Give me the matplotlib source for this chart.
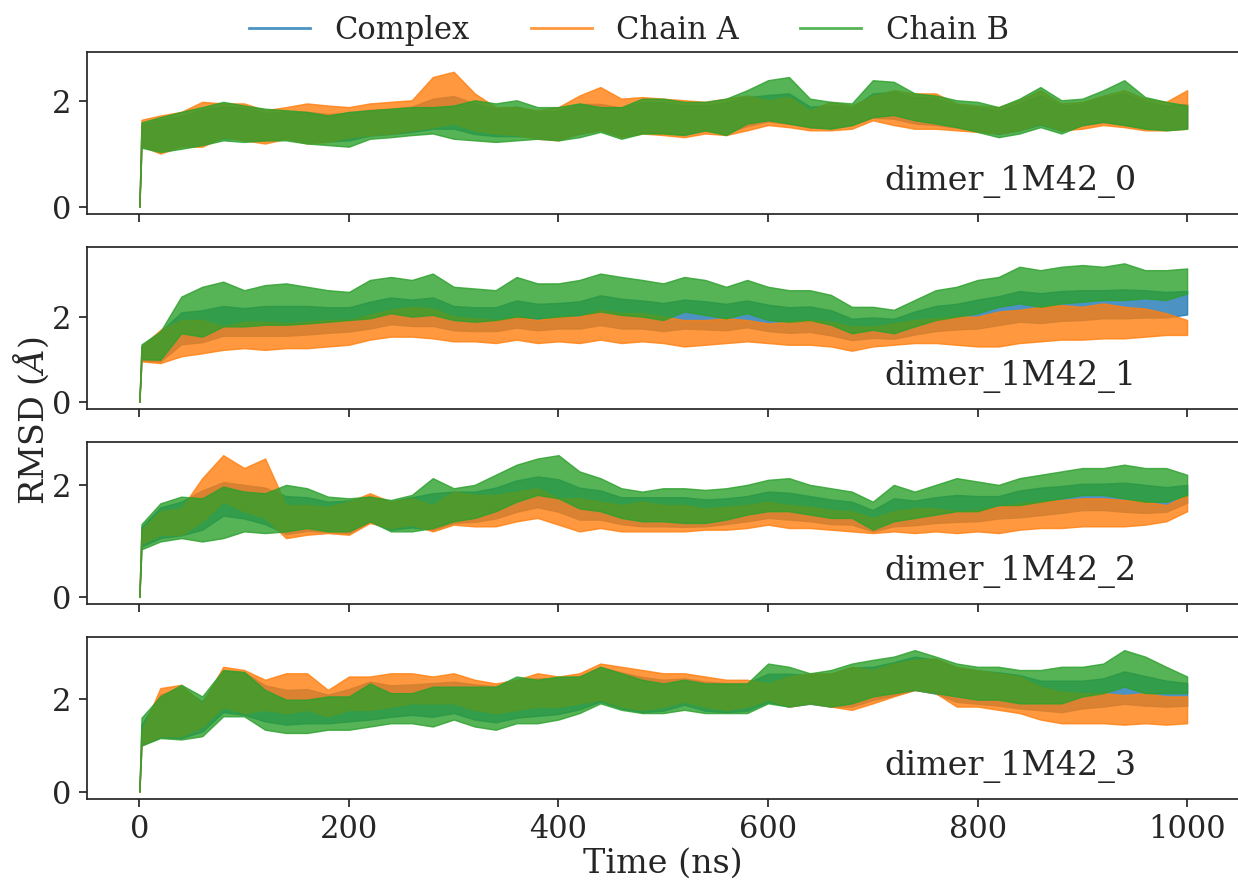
import matplotlib
matplotlib.use("Agg")
import matplotlib.pyplot as plt
from matplotlib.lines import Line2D

plt.rcParams['font.family'] = 'serif'
plt.rcParams['font.serif'] = ['DejaVu Serif']
plt.rcParams['mathtext.fontset'] = 'dejavuserif'

# ---- data: RMSD band (low / high envelope), in Angstrom ----
TIME = [0, 2, 20, 40, 60, 80, 100, 120, 140, 160, 180, 200, 220, 240, 260, 280, 300,
        320, 340, 360, 380, 400, 420, 440, 460, 480, 500, 520, 540, 560, 580, 600,
        620, 640, 660, 680, 700, 720, 740, 760, 780, 800, 820, 840, 860, 880, 900,
        920, 940, 960, 980, 1000]

RUNS = ["dimer_1M42_0", "dimer_1M42_1", "dimer_1M42_2", "dimer_1M42_3"]
SERIES = ["Complex", "Chain A", "Chain B"]
COLORS = ["#1f77b4", "#ff7f0e", "#2ca02c"]

# dimer_1M42_0
C0_HI = [0, 1.55, 1.65, 1.72, 1.85, 1.90, 1.88, 1.78, 1.80, 1.80, 1.76, 1.78, 1.84, 1.86, 1.90, 2.05, 2.10,
         1.96, 1.86, 1.90, 1.80, 1.82, 1.95, 1.95, 1.88, 1.98, 1.98, 1.93, 1.92, 1.98, 2.08, 2.12,
         2.15, 1.90, 1.92, 1.88, 2.15, 2.18, 2.08, 2.06, 1.92, 1.88, 1.82, 1.96, 2.12, 1.92, 1.95,
         2.08, 2.15, 1.99, 1.92, 1.95]
C0_LO = [0, 1.15, 1.08, 1.15, 1.20, 1.30, 1.28, 1.25, 1.30, 1.24, 1.24, 1.26, 1.35, 1.38, 1.42, 1.48, 1.48,
         1.38, 1.34, 1.34, 1.32, 1.29, 1.38, 1.46, 1.34, 1.41, 1.40, 1.37, 1.44, 1.40, 1.53, 1.62,
         1.57, 1.50, 1.49, 1.54, 1.69, 1.67, 1.58, 1.55, 1.50, 1.45, 1.38, 1.45, 1.56, 1.44, 1.54,
         1.60, 1.55, 1.49, 1.48, 1.50]
A0_HI = [0, 1.65, 1.73, 1.80, 1.99, 1.96, 1.96, 1.83, 1.89, 1.96, 1.92, 1.89, 1.96, 1.99, 2.02, 2.46, 2.56,
         2.15, 1.89, 1.89, 1.83, 1.89, 2.11, 2.27, 2.05, 2.08, 2.05, 2.02, 1.99, 2.05, 2.11, 2.02,
         2.08, 1.83, 1.99, 1.92, 2.11, 2.21, 2.15, 2.15, 1.96, 1.92, 1.89, 2.02, 2.21, 1.96, 1.99,
         2.11, 2.21, 2.05, 1.99, 2.21]
A0_LO = [0, 1.15, 1.01, 1.14, 1.14, 1.32, 1.26, 1.20, 1.29, 1.20, 1.23, 1.32, 1.36, 1.39, 1.45, 1.51, 1.58,
         1.45, 1.39, 1.36, 1.29, 1.26, 1.39, 1.45, 1.32, 1.39, 1.36, 1.32, 1.39, 1.36, 1.45, 1.55,
         1.51, 1.45, 1.45, 1.48, 1.64, 1.55, 1.48, 1.48, 1.45, 1.42, 1.39, 1.45, 1.58, 1.45, 1.48,
         1.55, 1.51, 1.45, 1.45, 1.48]
B0_HI = [0, 1.60, 1.70, 1.80, 1.89, 1.99, 1.92, 1.86, 1.83, 1.80, 1.73, 1.80, 1.83, 1.86, 1.89, 1.89, 1.92,
         2.02, 1.96, 2.02, 1.89, 1.89, 1.96, 1.89, 1.89, 2.05, 2.05, 1.99, 1.99, 2.05, 2.21, 2.40,
         2.46, 2.05, 1.99, 1.96, 2.40, 2.37, 2.15, 2.11, 2.02, 1.99, 1.89, 2.05, 2.27, 2.02, 2.05,
         2.21, 2.40, 2.08, 1.99, 1.92]
B0_LO = [0, 1.12, 1.04, 1.10, 1.17, 1.26, 1.23, 1.26, 1.26, 1.20, 1.17, 1.14, 1.29, 1.32, 1.36, 1.39, 1.29,
         1.26, 1.23, 1.26, 1.29, 1.26, 1.32, 1.42, 1.29, 1.39, 1.39, 1.36, 1.45, 1.36, 1.58, 1.64,
         1.58, 1.51, 1.48, 1.55, 1.70, 1.74, 1.64, 1.58, 1.51, 1.42, 1.32, 1.39, 1.51, 1.39, 1.55,
         1.61, 1.55, 1.48, 1.45, 1.48]

# dimer_1M42_1
C1_HI = [0, 1.30, 1.65, 2.10, 2.15, 2.25, 2.20, 2.25, 2.25, 2.25, 2.22, 2.22, 2.35, 2.45, 2.40, 2.45, 2.25,
         2.22, 2.22, 2.38, 2.30, 2.32, 2.36, 2.50, 2.42, 2.38, 2.32, 2.40, 2.36, 2.30, 2.38, 2.28,
         2.22, 2.24, 2.15, 1.95, 1.98, 1.95, 2.12, 2.25, 2.30, 2.40, 2.48, 2.60, 2.55, 2.60, 2.62,
         2.62, 2.64, 2.62, 2.58, 2.60]
C1_LO = [0, 0.97, 0.95, 1.35, 1.40, 1.55, 1.55, 1.55, 1.55, 1.58, 1.62, 1.65, 1.72, 1.82, 1.78, 1.78, 1.68,
         1.66, 1.66, 1.74, 1.68, 1.72, 1.72, 1.80, 1.72, 1.72, 1.66, 1.72, 1.70, 1.68, 1.75, 1.66,
         1.62, 1.64, 1.56, 1.45, 1.50, 1.48, 1.58, 1.66, 1.70, 1.72, 1.80, 1.88, 1.85, 1.90, 1.92,
         1.96, 1.96, 1.98, 1.98, 2.05]
A1_HI = [0, 1.30, 1.69, 1.92, 1.92, 1.77, 1.88, 1.88, 1.84, 1.88, 1.92, 1.92, 2.04, 2.16, 2.23, 2.19, 2.00,
         1.96, 1.92, 2.00, 1.92, 2.00, 2.00, 2.16, 2.08, 2.08, 2.00, 1.92, 1.92, 1.96, 1.92, 1.84,
         1.88, 1.92, 1.88, 1.77, 1.77, 1.84, 1.92, 1.96, 2.00, 2.00, 2.12, 2.16, 2.23, 2.27, 2.23,
         2.31, 2.23, 2.19, 2.08, 1.92]
A1_LO = [0, 0.95, 0.91, 1.07, 1.14, 1.22, 1.26, 1.22, 1.26, 1.26, 1.30, 1.34, 1.46, 1.53, 1.53, 1.49, 1.42,
         1.42, 1.38, 1.46, 1.38, 1.42, 1.38, 1.46, 1.38, 1.42, 1.38, 1.30, 1.34, 1.38, 1.42, 1.38,
         1.34, 1.34, 1.30, 1.20, 1.30, 1.34, 1.38, 1.38, 1.34, 1.30, 1.30, 1.38, 1.42, 1.46, 1.46,
         1.49, 1.49, 1.53, 1.57, 1.57]
B1_HI = [0, 1.35, 1.65, 2.47, 2.70, 2.82, 2.62, 2.74, 2.78, 2.70, 2.62, 2.58, 2.86, 2.93, 2.86, 3.01, 2.70,
         2.66, 2.62, 2.93, 2.78, 2.78, 2.86, 3.01, 2.93, 2.86, 2.78, 2.93, 2.86, 2.70, 2.86, 2.70,
         2.62, 2.62, 2.51, 2.23, 2.23, 2.16, 2.39, 2.62, 2.70, 2.86, 2.93, 3.17, 3.09, 3.17, 3.21,
         3.17, 3.25, 3.09, 3.09, 3.13]
B1_LO = [0, 1.00, 0.99, 1.61, 1.53, 1.77, 1.77, 1.81, 1.81, 1.84, 1.88, 1.92, 1.96, 2.08, 2.00, 2.04, 1.92,
         1.88, 1.92, 2.00, 1.96, 2.00, 2.04, 2.12, 2.04, 2.00, 1.92, 2.12, 2.04, 1.96, 2.08, 1.92,
         1.88, 1.92, 1.81, 1.61, 1.69, 1.61, 1.77, 1.92, 2.00, 2.08, 2.23, 2.31, 2.23, 2.31, 2.35,
         2.39, 2.39, 2.43, 2.39, 2.54]

# dimer_1M42_2
C2_HI = [0, 1.25, 1.60, 1.70, 1.90, 2.05, 2.00, 1.95, 1.80, 1.78, 1.70, 1.72, 1.80, 1.70, 1.78, 1.85, 1.88,
         1.88, 1.95, 2.08, 2.15, 2.10, 1.95, 1.90, 1.78, 1.78, 1.78, 1.78, 1.74, 1.76, 1.80, 1.88,
         1.86, 1.80, 1.74, 1.70, 1.55, 1.76, 1.72, 1.78, 1.82, 1.80, 1.80, 1.90, 1.95, 1.98, 2.02,
         2.02, 2.04, 2.00, 1.96, 2.00]
C2_LO = [0, 0.90, 1.05, 1.10, 1.20, 1.45, 1.40, 1.30, 1.12, 1.18, 1.16, 1.14, 1.34, 1.20, 1.24, 1.20, 1.32,
         1.34, 1.40, 1.52, 1.60, 1.52, 1.38, 1.38, 1.30, 1.26, 1.26, 1.25, 1.26, 1.30, 1.35, 1.41,
         1.38, 1.35, 1.30, 1.29, 1.17, 1.26, 1.28, 1.32, 1.34, 1.35, 1.40, 1.42, 1.46, 1.50, 1.55,
         1.55, 1.52, 1.50, 1.52, 1.68]
A2_HI = [0, 1.20, 1.53, 1.58, 2.12, 2.53, 2.30, 2.47, 1.64, 1.64, 1.61, 1.70, 1.85, 1.70, 1.76, 1.64, 1.88,
         1.82, 1.82, 1.88, 1.94, 1.76, 1.76, 1.70, 1.64, 1.70, 1.64, 1.64, 1.58, 1.61, 1.64, 1.70,
         1.64, 1.61, 1.55, 1.53, 1.41, 1.53, 1.58, 1.58, 1.53, 1.55, 1.61, 1.67, 1.70, 1.73, 1.76,
         1.76, 1.73, 1.70, 1.64, 1.82]
A2_LO = [0, 0.95, 1.11, 1.11, 1.35, 1.70, 1.53, 1.41, 1.05, 1.11, 1.14, 1.11, 1.32, 1.23, 1.29, 1.17, 1.29,
         1.26, 1.26, 1.35, 1.41, 1.29, 1.17, 1.23, 1.17, 1.17, 1.17, 1.17, 1.20, 1.20, 1.23, 1.29,
         1.23, 1.23, 1.20, 1.17, 1.14, 1.17, 1.14, 1.17, 1.14, 1.17, 1.14, 1.20, 1.23, 1.23, 1.26,
         1.26, 1.26, 1.29, 1.35, 1.53]
B2_HI = [0, 1.30, 1.67, 1.79, 1.76, 1.97, 1.88, 1.85, 2.00, 1.94, 1.79, 1.76, 1.79, 1.73, 1.82, 2.12, 1.94,
         2.00, 2.18, 2.36, 2.47, 2.53, 2.24, 2.12, 1.94, 1.88, 1.94, 1.94, 1.91, 1.94, 2.00, 2.09,
         2.12, 2.00, 1.94, 1.88, 1.70, 2.00, 1.88, 2.00, 2.12, 2.06, 2.00, 2.12, 2.18, 2.24, 2.30,
         2.30, 2.36, 2.30, 2.30, 2.18]
B2_LO = [0, 0.85, 0.99, 1.05, 0.99, 1.05, 1.17, 1.14, 1.17, 1.23, 1.17, 1.17, 1.35, 1.17, 1.17, 1.23, 1.35,
         1.41, 1.53, 1.70, 1.82, 1.76, 1.58, 1.53, 1.41, 1.35, 1.35, 1.32, 1.32, 1.38, 1.47, 1.53,
         1.53, 1.47, 1.41, 1.41, 1.20, 1.35, 1.41, 1.47, 1.53, 1.53, 1.64, 1.64, 1.70, 1.76, 1.82,
         1.82, 1.76, 1.70, 1.70, 1.82]

# dimer_1M42_3
C3_HI = [0, 1.45, 2.10, 2.25, 1.95, 2.62, 2.58, 2.30, 2.20, 2.22, 2.10, 2.22, 2.38, 2.30, 2.32, 2.35, 2.38,
         2.32, 2.28, 2.42, 2.45, 2.45, 2.50, 2.70, 2.58, 2.48, 2.42, 2.45, 2.38, 2.35, 2.35, 2.55,
         2.55, 2.52, 2.55, 2.68, 2.70, 2.80, 2.92, 2.85, 2.68, 2.62, 2.58, 2.52, 2.40, 2.40, 2.40,
         2.45, 2.60, 2.50, 2.40, 2.35]
C3_LO = [0, 1.00, 1.18, 1.16, 1.30, 1.72, 1.66, 1.52, 1.45, 1.48, 1.48, 1.52, 1.56, 1.62, 1.66, 1.62, 1.70,
         1.56, 1.50, 1.60, 1.64, 1.68, 1.78, 1.95, 1.80, 1.72, 1.75, 1.88, 1.75, 1.72, 1.75, 1.94,
         1.84, 1.90, 1.84, 1.84, 1.98, 2.08, 2.20, 2.12, 1.94, 1.90, 1.86, 1.80, 1.76, 1.72, 1.80,
         1.84, 1.90, 1.86, 1.84, 1.86]
A3_HI = [0, 1.30, 2.24, 2.31, 1.91, 2.70, 2.63, 2.42, 2.56, 2.56, 2.20, 2.49, 2.49, 2.56, 2.56, 2.49, 2.56,
         2.42, 2.34, 2.42, 2.56, 2.49, 2.56, 2.77, 2.70, 2.63, 2.56, 2.56, 2.49, 2.42, 2.42, 2.34,
         2.49, 2.56, 2.56, 2.70, 2.63, 2.77, 2.85, 2.88, 2.70, 2.63, 2.56, 2.49, 2.27, 2.16, 2.13,
         2.13, 2.09, 2.13, 2.06, 2.06]
A3_LO = [0, 1.00, 1.20, 1.20, 1.41, 1.84, 1.70, 1.77, 1.70, 1.77, 1.63, 1.77, 1.77, 1.84, 1.91, 1.91, 1.91,
         1.77, 1.70, 1.77, 1.84, 1.84, 1.91, 1.99, 1.84, 1.77, 1.84, 1.95, 1.84, 1.77, 1.84, 1.99,
         1.84, 1.91, 1.84, 1.77, 1.91, 2.06, 2.20, 2.13, 1.84, 1.84, 1.77, 1.70, 1.56, 1.48, 1.48,
         1.48, 1.45, 1.48, 1.45, 1.48]
B3_HI = [0, 1.60, 2.06, 2.31, 2.06, 2.63, 2.59, 2.20, 1.99, 1.99, 2.06, 2.06, 2.34, 2.13, 2.13, 2.27, 2.27,
         2.27, 2.27, 2.49, 2.42, 2.49, 2.49, 2.70, 2.56, 2.42, 2.34, 2.42, 2.34, 2.34, 2.34, 2.77,
         2.70, 2.56, 2.63, 2.77, 2.85, 2.92, 3.06, 2.92, 2.77, 2.70, 2.70, 2.63, 2.63, 2.70, 2.70,
         2.77, 3.06, 2.92, 2.70, 2.49]
B3_LO = [0, 1.00, 1.16, 1.13, 1.20, 1.63, 1.63, 1.34, 1.27, 1.27, 1.34, 1.34, 1.41, 1.48, 1.48, 1.41, 1.56,
         1.41, 1.34, 1.48, 1.48, 1.56, 1.70, 1.91, 1.77, 1.70, 1.70, 1.77, 1.70, 1.70, 1.70, 1.91,
         1.84, 1.91, 1.84, 1.91, 2.06, 2.13, 2.20, 2.13, 2.06, 1.99, 1.99, 1.91, 1.91, 1.91, 2.06,
         2.13, 2.27, 2.13, 2.13, 2.13]

BANDS = [
    [(C0_LO, C0_HI), (A0_LO, A0_HI), (B0_LO, B0_HI)],
    [(C1_LO, C1_HI), (A1_LO, A1_HI), (B1_LO, B1_HI)],
    [(C2_LO, C2_HI), (A2_LO, A2_HI), (B2_LO, B2_HI)],
    [(C3_LO, C3_HI), (A3_LO, A3_HI), (B3_LO, B3_HI)],
]
YLIMS = [(-0.13, 2.94), (-0.16, 3.64), (-0.12, 2.77), (-0.15, 3.35)]

# ---- layout (pixels of a 1238x880 canvas) ----
W, H = 1238, 880
AX_LEFT, AX_RIGHT = 87, 1239.5
AX_TOPS = [51.7, 246.7, 441.7, 636.7]
AX_H = 162
INK = "#262626"

fig = plt.figure(figsize=(W / 100, H / 100), dpi=100)
axes = []
for i, run in enumerate(RUNS):
    rect = [AX_LEFT / W, 1 - (AX_TOPS[i] + AX_H) / H, (AX_RIGHT - AX_LEFT) / W, AX_H / H]
    ax = fig.add_axes(rect, sharex=axes[0] if axes else None)
    axes.append(ax)
    for (lo, hi), col in zip(BANDS[i], COLORS):
        ax.fill_between(TIME, lo, hi, color=col, alpha=0.8, linewidth=1.0)
    ax.set_xlim(-50, 1050)
    ax.set_ylim(*YLIMS[i])
    ax.set_yticks([0, 2])
    ax.set_xticks([0, 200, 400, 600, 800, 1000])
    for s in ax.spines.values():
        s.set_color(INK)
        s.set_linewidth(1.25)
    ax.tick_params(direction="out", length=6, width=1.25, color=INK,
                   labelcolor=INK, labelsize=22, pad=5)
    if i < len(RUNS) - 1:
        ax.tick_params(labelbottom=False)
    ax.text(0.692, 0.144, run, transform=ax.transAxes, fontsize=24,
            color=INK, ha="left", va="baseline")

fig.text(663 / W, 1 - 864 / H, "Time (ns)", fontsize=24, color=INK,
         ha="center", va="center")
fig.text(31 / W, 1 - 421 / H, r"RMSD ($Å$)", fontsize=24, color=INK,
         ha="center", va="center", rotation=90)

handles = [Line2D([], [], color=c, lw=2, alpha=0.8) for c in COLORS]
fig.legend(handles, SERIES, loc="upper center", bbox_to_anchor=(0.508, 0.99),
           ncol=3, frameon=False, fontsize=22, handlelength=2.0,
           handletextpad=0.8, columnspacing=2.0, borderaxespad=0.0, borderpad=0.2,
           labelcolor=INK)

fig.savefig("out.png", dpi=100)
